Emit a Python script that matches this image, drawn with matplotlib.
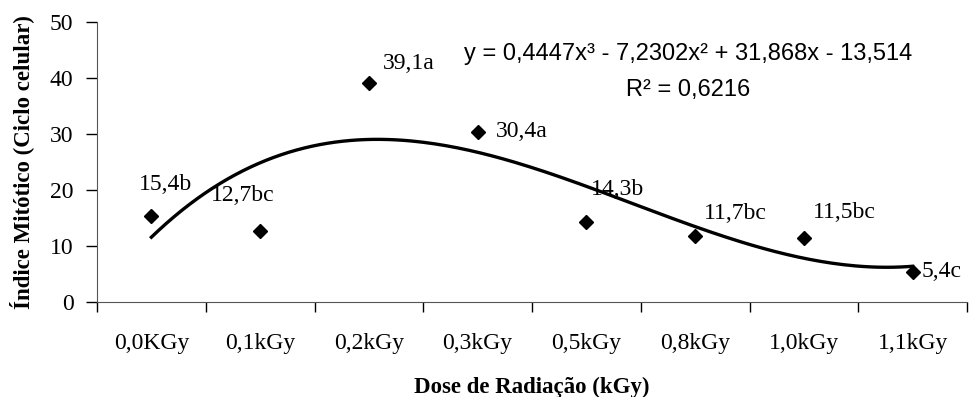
import matplotlib.pyplot as plt
import numpy as np

# data
doses = ['0,0KGy', '0,1kGy', '0,2kGy', '0,3kGy', '0,5kGy', '0,8kGy', '1,0kGy', '1,1kGy']
indice = [15.4, 12.7, 39.1, 30.4, 14.3, 11.7, 11.5, 5.4]
letras = ['15,4b', '12,7bc', '39,1a', '30,4a', '14,3b', '11,7bc', '11,5bc', '5,4c']
# label offsets in pixels (dx, dy) relative to each point
offsets = [(-12, 31), (-49, 35), (14, 20), (18, 0), (5, 32), (9, 23), (9, 25), (9, 0)]
# polynomial trendline (Excel) coefficients, highest power first
coef = [0.4447, -7.2302, 31.868, -13.514]

serif = 'Liberation Serif'
sans = 'Liberation Sans'

fig = plt.figure(figsize=(9.75, 3.97), dpi=100)
ax = fig.add_axes([97 / 975, 1 - 302 / 397, 870 / 975, 280 / 397])

x = np.arange(1, len(doses) + 1)
xs = np.linspace(1, len(doses), 200)
ax.plot(xs, np.polyval(coef, xs), color='black', lw=2.4, zorder=2)
ax.plot(x, indice, linestyle='none', marker='D', markersize=7, color='black', zorder=3)

for xi, yi, txt, (dx, dy) in zip(x, indice, letras, offsets):
    ax.annotate(txt, (xi, yi), xytext=(dx, dy), textcoords='offset pixels',
                fontsize=17, family=serif, ha='left', va='center')

ax.text(0.68, 0.885, 'y = 0,4447x³ - 7,2302x² + 31,868x - 13,514', transform=ax.transAxes,
        fontsize=17, family=sans, ha='center', va='center')
ax.text(0.68, 0.757, 'R² = 0,6216', transform=ax.transAxes,
        fontsize=17, family=sans, ha='center', va='center')

ax.set_xlim(0.5, len(doses) + 0.5)
ax.set_ylim(0, 50)
ax.set_yticks([0, 10, 20, 30, 40, 50])
ax.set_xticks(x)
ax.set_xticklabels(doses)
ax.set_xticks(np.arange(0.5, len(doses) + 1), minor=True)
ax.tick_params(axis='x', which='major', length=0, pad=22, labelsize=17)
ax.tick_params(axis='x', which='minor', length=7, width=1, direction='out')
ax.tick_params(axis='y', length=8, width=1, direction='out', pad=9, labelsize=17)
for lab in ax.get_xticklabels() + ax.get_yticklabels():
    lab.set_family(serif)

ax.spines['top'].set_visible(False)
ax.spines['right'].set_visible(False)
ax.spines['left'].set_color('#555555')
ax.spines['bottom'].set_color('#555555')

ax.set_xlabel('Dose de Radiação (kGy)', fontsize=16.5, family=serif, fontweight='bold', labelpad=17)
ax.set_ylabel('Índice Mitótico (Ciclo celular)', fontsize=16.5, family=serif, fontweight='bold', labelpad=11)

fig.savefig('out.png', dpi=100)
